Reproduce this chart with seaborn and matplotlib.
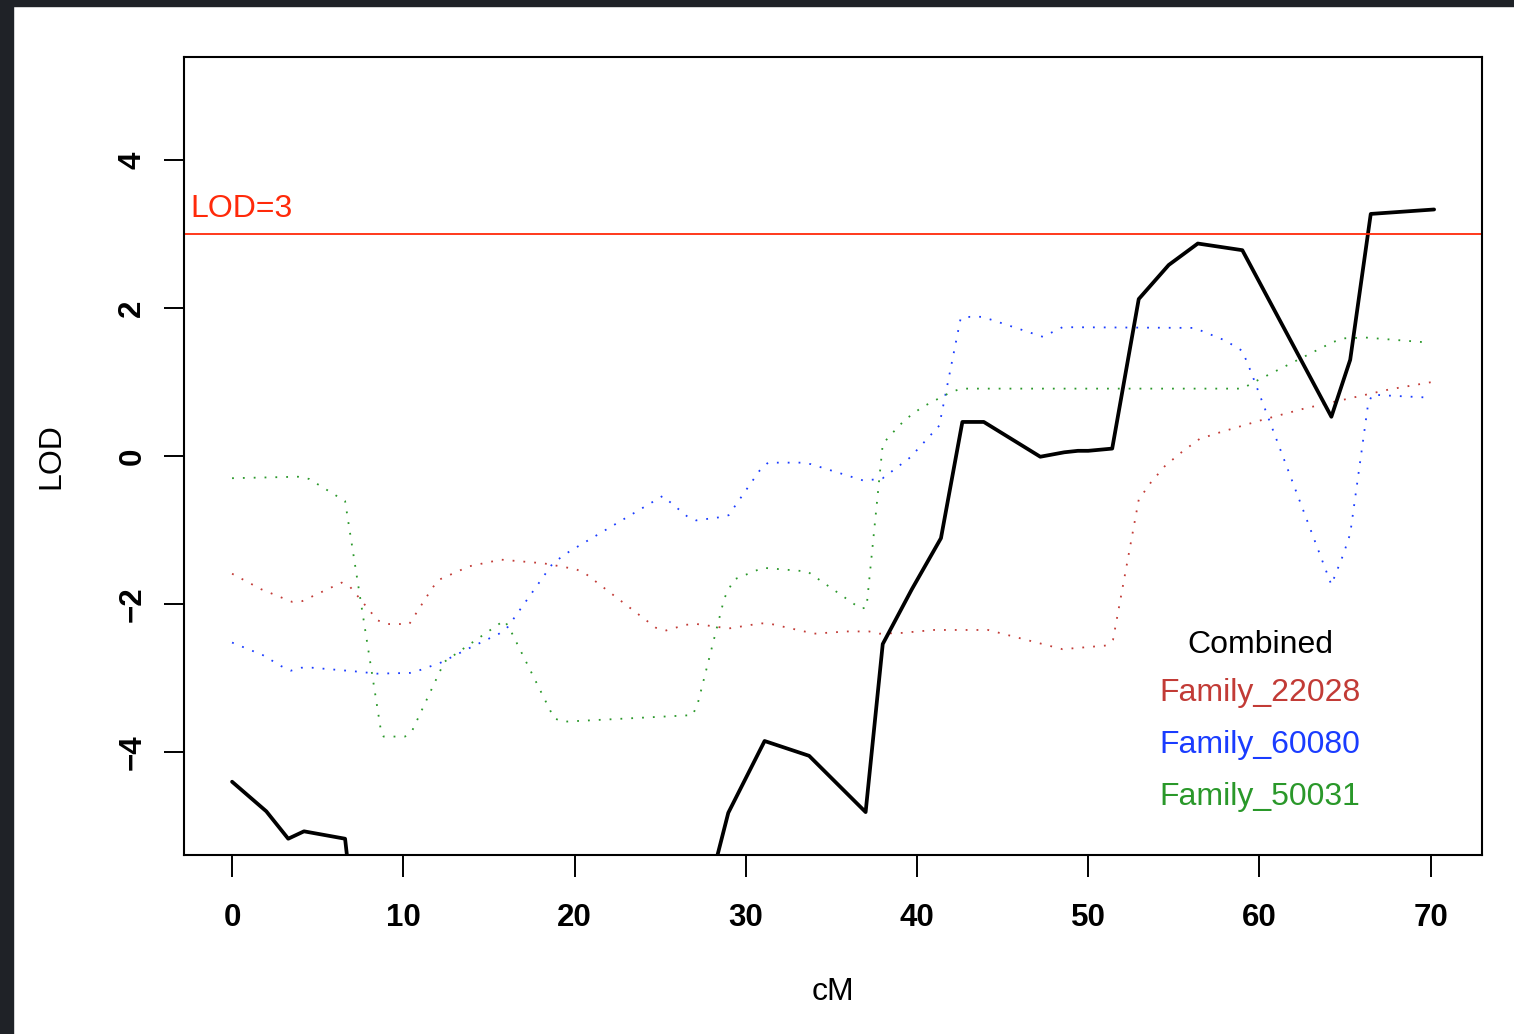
import matplotlib
matplotlib.use("Agg")
import matplotlib.pyplot as plt
import matplotlib.patches as mpatches
import pandas as pd
import seaborn as sns

# LOD profiles along the linkage group (cM, LOD)
combined_cm = [0, 2.0, 3.28, 4.2, 6.6, 7.1, 10, 15, 20, 25, 27.4, 28.98, 31.1,
               33.7, 37.0, 38.0, 39.7, 41.4, 42.65, 43.9, 47.2, 48.6, 49.4,
               50.0, 51.4, 52.95, 54.7, 56.4, 59.0, 64.2, 65.3, 66.5, 70.2]
combined_lod = [-4.40, -4.80, -5.17, -5.07, -5.17, -6.2, -9.5, -11.5, -12.0,
                -9.0, -6.25, -4.82, -3.85, -4.05, -4.81, -2.54, -1.80, -1.11,
                0.46, 0.46, -0.01, 0.05, 0.07, 0.07, 0.10, 2.12, 2.58, 2.87,
                2.78, 0.53, 1.30, 3.27, 3.33]

fam22028_cm = [0.0, 1.7, 3.5, 4.1, 6.4, 6.9, 8.5, 9.05, 10.35, 11.7, 12.1,
               13.85, 15.7, 18.2, 20.1, 20.7, 24.75, 25.3, 26.5, 27.15, 29.0,
               30.9, 31.5, 34.0, 35.9, 37.2, 37.8, 39.1, 41.0, 44.15, 48.5,
               51.05, 51.45, 52.95, 53.65, 54.5, 55.5, 56.5, 57.7, 60.2, 62.6,
               65.1, 67.6, 70.1]
fam22028_lod = [-1.59, -1.80, -1.97, -1.96, -1.71, -1.77, -2.22, -2.27, -2.27,
                -1.78, -1.67, -1.49, -1.40, -1.45, -1.53, -1.60, -2.32, -2.36,
                -2.28, -2.27, -2.33, -2.26, -2.27, -2.40, -2.37, -2.37, -2.40,
                -2.39, -2.35, -2.35, -2.61, -2.56, -2.48, -0.59, -0.36, -0.13,
                0.06, 0.23, 0.32, 0.49, 0.64, 0.77, 0.90, 1.00]

fam60080_cm = [0, 1.8, 2.88, 3.43, 4.05, 4.68, 7.2, 8.47, 10.4, 11.0, 12.2,
               13.9, 15.6, 16.1, 18.7, 19.2, 19.7, 25.15, 26.6, 27.1, 28.4,
               29.0, 30.8, 31.3, 33.2, 33.8, 36.85, 37.4, 38.0, 39.6, 41.3,
               42.55, 43.1, 43.75, 44.35, 47.35, 48.5, 56.2, 58.0, 59.0, 59.5,
               64.2, 64.9, 65.3, 66.35, 66.6, 67.2, 69.8]
fam60080_lod = [-2.52, -2.69, -2.84, -2.90, -2.86, -2.86, -2.91, -2.94, -2.93,
                -2.89, -2.79, -2.59, -2.40, -2.31, -1.46, -1.37, -1.29, -0.54,
                -0.82, -0.87, -0.83, -0.80, -0.20, -0.09, -0.09, -0.11, -0.33,
                -0.32, -0.30, -0.02, 0.41, 1.86, 1.88, 1.88, 1.84, 1.61, 1.74,
                1.73, 1.56, 1.42, 1.14, -1.74, -1.33, -1.05, 0.71, 0.83, 0.82,
                0.79]

fam50031_cm = [0, 3.85, 4.5, 6.6, 8.7, 8.85, 10.1, 10.5, 12.4, 15.9, 16.25,
               18.8, 19.3, 26.9, 27.2, 28.75, 29.3, 31.0, 33.6, 36.7, 37.05,
               38.0, 38.4, 39.3, 40.3, 42.0, 42.6, 59.0, 59.7, 64.3, 65.0,
               66.2, 70.0]
fam50031_lod = [-0.30, -0.28, -0.31, -0.61, -3.72, -3.79, -3.79, -3.72, -2.78,
                -2.22, -2.35, -3.54, -3.59, -3.50, -3.34, -1.92, -1.67, -1.51,
                -1.56, -2.06, -2.05, 0.16, 0.27, 0.49, 0.66, 0.865, 0.91, 0.91,
                1.0, 1.54, 1.59, 1.60, 1.53]

threshold = 3

family_names = ["Family_22028", "Family_60080", "Family_50031"]
family_colors = ["#c23b36", "#1a3cff", "#2a982a"]

sns.set_theme(style="white")
plt.rcParams["font.family"] = ["Liberation Sans", "DejaVu Sans"]

fig = plt.figure(figsize=(15.14, 10.34), dpi=100, facecolor="white")
ax = fig.add_axes([0.1215, 0.1731, 0.9789 - 0.1215, 0.9449 - 0.1731])

# screenshot frame on top and left edge
fig.patches.append(mpatches.Rectangle((0, 1 - 6 / 1034), 1, 6 / 1034,
                                      transform=fig.transFigure,
                                      color="#1f2227", zorder=0))
fig.patches.append(mpatches.Rectangle((0, 0), 13 / 1514, 1,
                                      transform=fig.transFigure,
                                      color="#1f2227", zorder=0))

families = [(fam22028_cm, fam22028_lod), (fam60080_cm, fam60080_lod),
            (fam50031_cm, fam50031_lod)]
for (cm, lod), name, col in zip(families, family_names, family_colors):
    df = pd.DataFrame({"cM": cm, "LOD": lod})
    sns.lineplot(data=df, x="cM", y="LOD", ax=ax, color=col, lw=1.3,
                 errorbar=None)
    ax.lines[-1].set_dashes((1, 5))

comb = pd.DataFrame({"cM": combined_cm, "LOD": combined_lod})
sns.lineplot(data=comb, x="cM", y="LOD", ax=ax, color="black", lw=2.7,
             errorbar=None)

ax.axhline(threshold, color="#ff2a0a", lw=1.3)
ax.text(-2.45, threshold + 0.23, "LOD=3", color="#ff2a0a", fontsize=23,
        va="baseline", ha="left")

# text-only legend
legend_y = [0.263, 0.203, 0.1376, 0.0724]
for yy, lab, col in zip(legend_y, ["Combined"] + family_names,
                        ["black"] + family_colors):
    ax.text(0.829, yy, lab, color=col, fontsize=23, ha="center",
            va="center", transform=ax.transAxes)

ax.set_xlim(-2.81, 73.0)
ax.set_ylim(-5.39, 5.39)
ax.set_xticks(range(0, 71, 10))
ax.set_yticks(range(-4, 5, 2))
ax.tick_params(axis="x", length=15.8, width=1.4, color="black", pad=19,
               labelsize=22.5, labelcolor="black", bottom=True)
ax.tick_params(axis="y", length=14.4, width=1.4, color="black", pad=12,
               labelsize=22.5, labelcolor="black", left=True,
               labelrotation=90)
for lab in ax.get_xticklabels() + ax.get_yticklabels():
    lab.set_fontweight("bold")
for lab in ax.get_yticklabels():
    lab.set_va("center")

for sp in ax.spines.values():
    sp.set_color("black")
    sp.set_linewidth(1.5)

ax.set_xlabel("cM", fontsize=23, color="black")
ax.set_ylabel("LOD", fontsize=23, color="black")
ax.xaxis.set_label_coords(0.5, -0.1525)
ax.yaxis.set_label_coords(-0.0905, 0.5)

fig.savefig("out.png", dpi=100, facecolor="white")
